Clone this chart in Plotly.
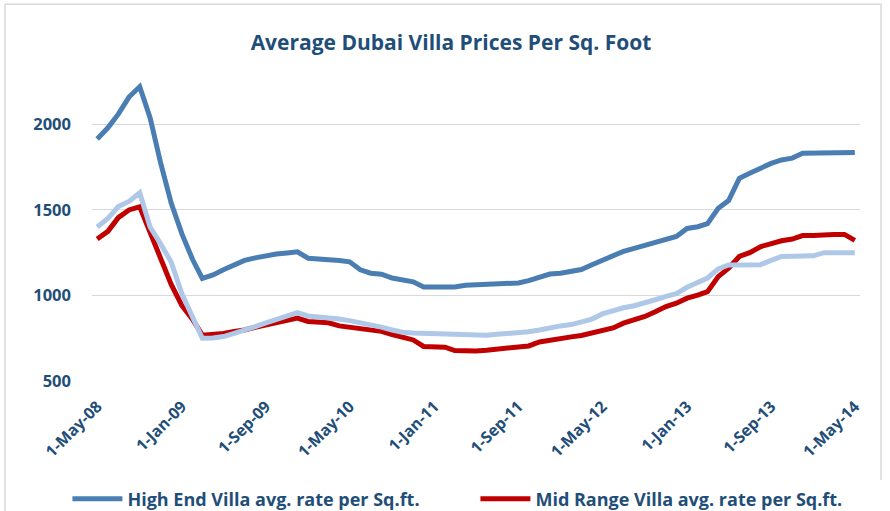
import pandas as pd
import plotly.graph_objects as go

months = pd.date_range("2008-05-01", periods=73, freq="MS")

high_end = [1915, 1980, 2060, 2160, 2220, 2040, 1770, 1540, 1360, 1210,
            1100, 1120, 1150, 1180, 1205, 1220, 1232, 1242, 1248, 1255,
            1218, 1215, 1212, 1205, 1197, 1150, 1130, 1124, 1102, 1090,
            1080, 1050, 1050, 1050, 1050, 1060, 1062, 1065, 1072, 1073,
            1073, 1087, 1108, 1125, 1130, 1140, 1152, 1180, 1205, 1232,
            1258, 1275, 1293, 1315, 1332, 1345, 1392, 1402, 1420, 1510,
            1555, 1685, 1715, 1745, 1772, 1792, 1803, 1831, 1833, 1836,
            1836, 1836, 1836]

mid_range = [1330, 1375, 1455, 1500, 1518, 1365, 1210, 1065, 940, 860,
             768, 772, 778, 790, 798, 814, 828, 845, 858, 868,
             848, 843, 840, 822, 815, 810, 800, 790, 772, 755,
             740, 702, 700, 698, 678, 675, 676, 680, 686, 690,
             692, 705, 728, 740, 750, 758, 766, 780, 795, 810,
             838, 858, 877, 905, 935, 955, 984, 1002, 1022, 1110,
             1159, 1228, 1250, 1285, 1305, 1320, 1330, 1350, 1350, 1355,
             1356, 1357, 1322]

third_series = [1400, 1450, 1520, 1550, 1600, 1400, 1300, 1195, 1010, 875,
                750, 752, 760, 778, 795, 818, 840, 860, 880, 900,
                880, 875, 870, 862, 853, 842, 830, 815, 798, 785,
                780, 778, 778, 775, 768, 765, 765, 768, 773, 776,
                779, 788, 798, 812, 822, 830, 845, 862, 892, 912,
                928, 940, 955, 975, 995, 1010, 1048, 1075, 1102, 1155,
                1178, 1178, 1178, 1180, 1205, 1228, 1229, 1230, 1232, 1250,
                1250, 1250, 1250]

tick_dates = ["2008-05-01", "2009-01-01", "2009-09-01", "2010-05-01", "2011-01-01",
              "2011-09-01", "2012-05-01", "2013-01-01", "2013-09-01", "2014-05-01"]
tick_labels = ["1-May-08", "1-Jan-09", "1-Sep-09", "1-May-10", "1-Jan-11",
               "1-Sep-11", "1-May-12", "1-Jan-13", "1-Sep-13", "1-May-14"]
y_ticks = [500, 1000, 1500, 2000]

names = ["High End Villa avg. rate per Sq.ft.", "Mid Range Villa avg. rate per Sq.ft."]

TXT = "#1F4E79"
FONT = "Open Sans"

fig = go.Figure()
fig.add_trace(go.Scatter(x=months, y=high_end, mode="lines", name=names[0],
                         line=dict(color="#4A7EB2", width=5)))
fig.add_trace(go.Scatter(x=months, y=mid_range, mode="lines", name=names[1],
                         line=dict(color="#C00000", width=5)))
fig.add_trace(go.Scatter(x=months, y=third_series, mode="lines", name="",
                         showlegend=False, line=dict(color="#AFC8E7", width=5)))

fig.update_layout(
    width=890, height=511,
    margin=dict(l=92, r=30, t=56, b=130, autoexpand=False),
    paper_bgcolor="white", plot_bgcolor="white",
    font=dict(family=FONT, color=TXT),
    title=dict(text="<b>Average Dubai Villa Prices Per Sq. Foot</b>",
               x=451 / 890, xanchor="center", xref="container",
               y=1 - 43 / 511, yanchor="middle", yref="container",
               font=dict(size=21, color=TXT, family=FONT)),
    xaxis=dict(range=["2008-04-16", "2014-05-16"], tickmode="array",
               tickvals=tick_dates, ticktext=tick_labels, tickangle=-45,
               showgrid=False, zeroline=False, showline=False, ticks="",
               ticklabelstandoff=12, automargin=False,
               tickfont=dict(size=16, color=TXT, family=FONT, weight="bold")),
    yaxis=dict(range=[500, 2400], tickmode="array", tickvals=y_ticks,
               showgrid=True, gridcolor="#D9D9D9", gridwidth=1,
               zeroline=False, showline=False, ticks="",
               ticklabelstandoff=20, automargin=False,
               tickfont=dict(size=16.5, color=TXT, family=FONT, weight="bold")),
    legend=dict(orientation="h", x=-0.032, xanchor="left", y=-0.363, yanchor="middle",
                font=dict(size=18, color=TXT, family=FONT, weight="bold"),
                entrywidth=343, entrywidthmode="pixels", itemwidth=50),
    shapes=[dict(type="rect", xref="paper", yref="paper",
                 x0=(5 - 92) / 768, x1=(881 - 92) / 768,
                 y0=-(520 - 381) / 325.3, y1=(381 - 4) / 325.3,
                 line=dict(color="#D9D9D9", width=1.5), layer="below")],
)

fig.write_html("out.html", config={"displayModeBar": False},
               post_script="document.body.style.margin='0';")
